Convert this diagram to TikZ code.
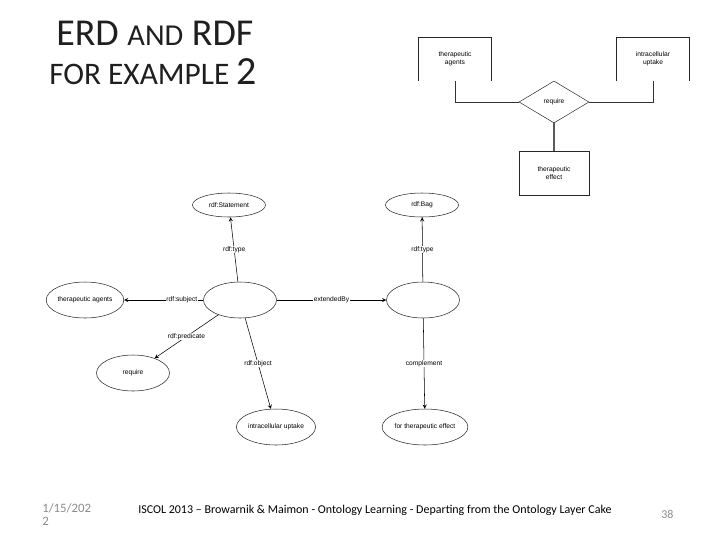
\documentclass[tikz,border=0pt]{standalone}
\usepackage{fontspec}
\setmainfont{Carlito}
\newfontfamily\diafont{Liberation Sans}
\usetikzlibrary{shapes.geometric}
\def\px{0.75pt}
\def\EllW{73}
\def\EllH{36}
\definecolor{datagray}{gray}{0.55}
\definecolor{titlegray}{gray}{0.12}

\begin{document}
\begin{tikzpicture}[x=0.75pt, y=-0.75pt, >=stealth, font=\diafont\fontsize{5}{5.8}\selectfont,
  ent/.style={minimum width=72*\px, minimum height=43*\px, inner sep=0pt, align=center},
  rel/.style={diamond, draw=black!80, minimum width=70*\px, minimum height=42*\px, inner sep=0pt, aspect=1.67},
  res/.style={ellipse, draw=black!85, minimum width=\EllW*\px, minimum height=\EllH*\px, inner sep=0pt},
  prop/.style={fill=white, inner sep=0.6pt}]
  \useasboundingbox (0,0) rectangle (720,540);

  % title
  \node[anchor=base west, inner sep=0pt, text=titlegray, font=\fontsize{28.5}{32}\selectfont] (ttl1) at (56,45)
    {ERD {\fontsize{22.8}{26}\selectfont AND} RDF};
  \node[anchor=base west, inner sep=0pt, text=titlegray, font=\fontsize{23.5}{26}\selectfont] (ttl2) at (49,84)
    {FOR EXAMPLE {\fontsize{30}{34}\selectfont 2}};

  % ERD
  \node[ent] (agents) at (455,59) {therapeutic\\agents};
  \node[ent] (uptake) at (653,59) {intracellular\\uptake};
  \node[rel] (require) at (554,102) {require};
  \node[ent, draw=black!85, minimum width=70*\px, minimum height=44*\px] (effect) at (554,173) {therapeutic\\effect};
  \draw[black!85] (agents.south west) |- (agents.north east) -- (agents.south east);
  \draw[black!85] (uptake.south west) |- (uptake.north east) -- (uptake.south east);
  \draw[black!80] (agents.south) |- (require.west);
  \draw[black!80] (uptake.south) |- (require.east);
  \draw[black!65, line width=1.4pt] (require.south) -- (effect.north);

  % RDF graph
  \node[res, minimum height=24*\px] (stmt) at (229,205) {rdf:Statement};
  \node[res, minimum height=24*\px] (bag) at (422,205) {rdf:Bag};
  \node[res] (reif) at (240,300) {};
  \node[res] (ext) at (423,300) {};
  \node[res] (tagents) at (85,300) {therapeutic agents};
  \node[res] (treq) at (133,373) {require};
  \node[res] (tuptake) at (276,427) {intracellular uptake};
  \node[res, minimum width=77*\px] (teffect) at (425,427) {for therapeutic effect};

  \draw[->] (reif) -- node[prop] {rdf:type} (stmt);
  \draw[->] (ext) -- node[prop] {rdf:type} (bag);
  \draw[->] (reif) -- node[prop, pos=0.27] {rdf:subject} (tagents);
  \draw[->] (reif) -- node[prop] {extendedBy} (ext);
  \draw[->] (reif) -- node[prop] {rdf:predicate} (treq);
  \draw[->] (reif) -- node[prop] {rdf:object} (tuptake);
  \draw[->] (ext) -- node[prop] {complement} (teffect);

  % footer
  \node[anchor=base west, inner sep=0pt, text=datagray, align=left, font=\fontsize{9.6}{9.75}\selectfont] (date) at (42,525)
    {1/15/202\\2};
  \node[anchor=base west, inner sep=0pt, font=\fontsize{9}{10}\selectfont] (foot) at (138,513)
    {ISCOL 2013 -- Browarnik \& Maimon - Ontology Learning - Departing from the Ontology Layer Cake};
  \node[anchor=base west, inner sep=0pt, text=datagray, font=\fontsize{9}{10}\selectfont] (page) at (661,518) {38};
\end{tikzpicture}
\end{document}
